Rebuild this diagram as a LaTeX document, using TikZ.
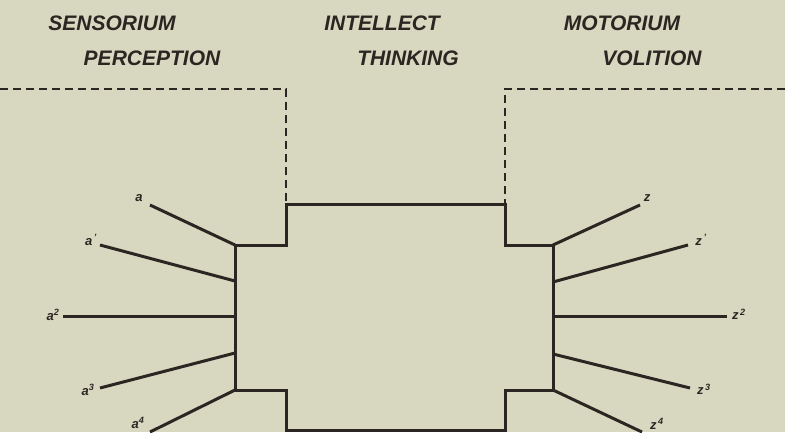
\documentclass[tikz,border=0pt]{standalone}
\usepackage{fontspec}
\setmainfont{Liberation Sans}
\definecolor{paper}{HTML}{D8D8C0}
\definecolor{ink}{HTML}{2B2622}
\begin{document}
\begin{tikzpicture}[x=1pt,y=-1pt,
  ink line/.style={draw=ink,line width=3pt,line cap=butt,line join=miter},
  dash line/.style={draw=ink,line width=2.8pt,dash pattern=on 8pt off 5pt},
  heading/.style={text=ink,font=\fontsize{21}{24}\selectfont\bfseries\itshape,inner sep=0pt,anchor=center},
  lbl/.style={text=ink,font=\fontsize{13}{15}\selectfont\bfseries\itshape,inner sep=0pt,anchor=center}]
\fill[paper] (0,0) rectangle (785,432);
\useasboundingbox (0,0) rectangle (785,432);
% headings
\node[heading] (sens) at (112,23) {SENSORIUM};
\node[heading] (perc) at (152,58) {PERCEPTION};
\node[heading] (intel) at (382,23) {INTELLECT};
\node[heading] (think) at (408,58) {THINKING};
\node[heading] (motor) at (622,23) {MOTORIUM};
\node[heading] (voli) at (652,58) {VOLITION};
% box coordinates
\coordinate (tl) at (286,204);
\coordinate (tr) at (505,204);
\coordinate (ltop) at (286,245);
\coordinate (lA) at (235,245);
\coordinate (lB) at (235,390);
\coordinate (lbot) at (286,390);
\coordinate (bl) at (286,430);
\coordinate (br) at (505,430);
\coordinate (rbot) at (505,390);
\coordinate (rB) at (553,390);
\coordinate (rA) at (553,245);
\coordinate (rtop) at (505,245);
% dashed boundaries
\coordinate (dl0) at (0,89);
\coordinate (dl1) at (286,89);
\coordinate (dr0) at (785,89);
\coordinate (dr1) at (505,89);
\draw[dash line] (dl0) -- (dl1) -- (tl);
\draw[dash line] (dr0) -- (dr1) -- (tr);
% central shape
\draw[ink line] (tl) -- (tr) -- (rtop) -- (rA) -- (rB) -- (rbot) -- (br) -- (bl) -- (lbot) -- (lB) -- (lA) -- (ltop) -- cycle;
% attachment points on sides
\coordinate (l1) at (235,281);
\coordinate (l2) at (235,316);
\coordinate (l3) at (235,353);
\coordinate (r1) at (553,282);
\coordinate (r2) at (553,316);
\coordinate (r3) at (553,354);
% free ends
\coordinate (ea0) at (150,205);
\coordinate (ea1) at (100,245);
\coordinate (ea2) at (63,316);
\coordinate (ea3) at (100,388);
\coordinate (ea4) at (150,432);
\coordinate (ez0) at (640,205);
\coordinate (ez1) at (688,245);
\coordinate (ez2) at (727,316);
\coordinate (ez3) at (690,388);
\coordinate (ez4) at (642,432);
\draw[ink line] (ea0) -- (lA);
\draw[ink line] (ea1) -- (l1);
\draw[ink line] (ea2) -- (l2);
\draw[ink line] (ea3) -- (l3);
\draw[ink line] (ea4) -- (lB);
\draw[ink line] (ez0) -- (rA);
\draw[ink line] (ez1) -- (r1);
\draw[ink line] (ez2) -- (r2);
\draw[ink line] (ez3) -- (r3);
\draw[ink line] (ez4) -- (rB);
% labels
\node[lbl] (la0) at (139,198) {a};
\node[lbl] (la1) at (91,240) {a\textsuperscript{\,’}};
\node[lbl] (la2) at (53,315) {a\textsuperscript{2}};
\node[lbl] (la3) at (88,390) {a\textsuperscript{3}};
\node[lbl] (la4) at (138,423) {a\textsuperscript{4}};
\node[lbl] (lz0) at (647,198) {z};
\node[lbl] (lz1) at (701,240) {z\textsuperscript{\,’}};
\node[lbl] (lz2) at (739,314) {z\textsuperscript{\,2}};
\node[lbl] (lz3) at (704,389) {z\textsuperscript{\,3}};
\node[lbl] (lz4) at (657,424) {z\textsuperscript{\,4}};
\end{tikzpicture}
\end{document}
